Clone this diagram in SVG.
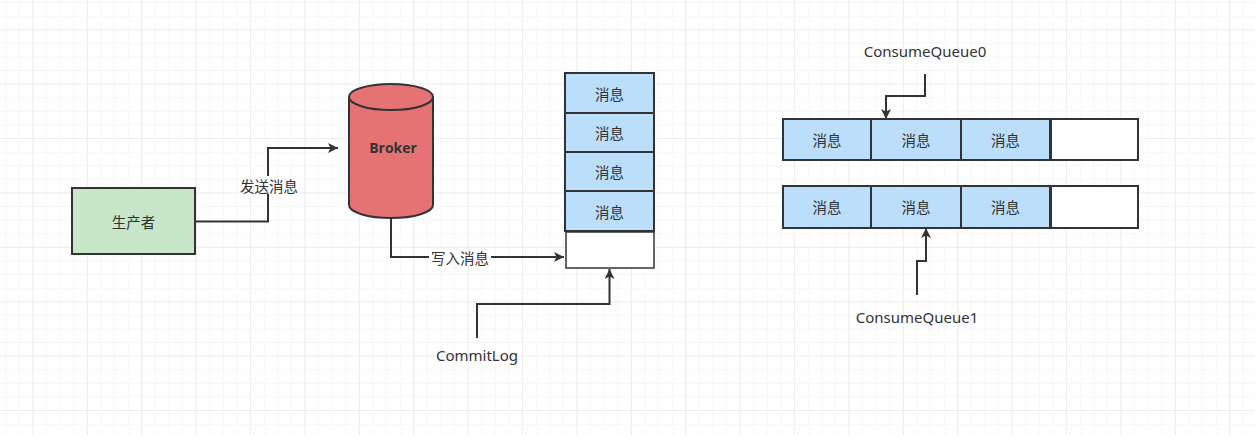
<svg xmlns="http://www.w3.org/2000/svg" width="1255" height="435" viewBox="0 0 1255 435">
  <defs>
    <pattern id="minor" x="5.3" y="2" width="13.6" height="13.6" patternUnits="userSpaceOnUse">
      <path d="M0 0H13.6M0 0V13.6" fill="none" stroke="#f0f0f0" stroke-width="1"/>
    </pattern>
    <pattern id="major" x="32.5" y="29.3" width="54.4" height="54.4" patternUnits="userSpaceOnUse">
      <path d="M0 0H54.4M0 0V54.4" fill="none" stroke="#e4e4e4" stroke-width="1"/>
    </pattern>
    <marker id="arr" viewBox="0 0 10 10" refX="10" refY="5" markerWidth="10" markerHeight="10" markerUnits="userSpaceOnUse" orient="auto">
      <path d="M0 0L10 5L0 10L2.5 5Z" fill="#333"/>
    </marker>
    <style>
      .t{font-family:"Noto Sans CJK SC","Liberation Sans",sans-serif;font-size:14.5px;fill:#333;text-anchor:middle;dominant-baseline:central}
      .e{font-family:"Noto Sans","Liberation Sans","Noto Sans CJK SC",sans-serif;font-size:15px;fill:#333;text-anchor:middle;dominant-baseline:central}
      .msg{fill:#bbdefb;stroke:#333;stroke-width:2}
      .empty{fill:#fff;stroke:#333;stroke-width:1.5}
      .c{fill:none;stroke:#333;stroke-width:2}
    </style>
  </defs>
  <rect width="1255" height="435" fill="#fff"/>
  <rect width="1255" height="435" fill="url(#minor)"/>
  <rect width="1255" height="435" fill="url(#major)"/>

  <g id="producer">
    <rect x="72" y="188" width="123" height="66" fill="#c8e6c9" stroke="#333" stroke-width="2"/>
    <text class="t" x="133.5" y="221">生产者</text>
  </g>

  <g id="broker">
    <path d="M349 97V205A42 13 0 0 0 433 205V97" fill="#e57373" stroke="#333" stroke-width="2"/>
    <ellipse cx="391" cy="97" rx="42" ry="13" fill="#e57373" stroke="#333" stroke-width="2"/>
    <text class="e" x="393" y="147" style="font-weight:bold;font-family:'Open Sans','Liberation Sans',sans-serif;font-size:14px">Broker</text>
  </g>

  <g id="commitlog">
    <rect class="msg" x="565" y="73" width="89" height="40"/>
    <text class="t" x="609.5" y="93">消息</text>
    <rect class="msg" x="565" y="113" width="89" height="39"/>
    <text class="t" x="609.5" y="132.5">消息</text>
    <rect class="msg" x="565" y="152" width="89" height="39"/>
    <text class="t" x="609.5" y="171.5">消息</text>
    <rect class="msg" x="565" y="191" width="89" height="40"/>
    <text class="t" x="609.5" y="211">消息</text>
    <rect class="empty" x="566" y="232" width="88" height="36"/>
  </g>

  <g id="commitlog-label">
    <text class="e" x="477" y="355">CommitLog</text>
  </g>

  <g id="queue0">
    <rect class="msg" x="783" y="119" width="88" height="41"/>
    <text class="t" x="827" y="139.5">消息</text>
    <rect class="msg" x="871" y="119" width="90" height="41"/>
    <text class="t" x="916" y="139.5">消息</text>
    <rect class="msg" x="961" y="119" width="89" height="41"/>
    <text class="t" x="1005.5" y="139.5">消息</text>
    <rect class="msg" x="1051" y="119" width="87" height="41" style="fill:#fff"/>
  </g>

  <g id="queue1">
    <rect class="msg" x="783" y="186" width="88" height="42"/>
    <text class="t" x="827" y="206.5">消息</text>
    <rect class="msg" x="871" y="186" width="90" height="42"/>
    <text class="t" x="916" y="206.5">消息</text>
    <rect class="msg" x="961" y="186" width="89" height="42"/>
    <text class="t" x="1005.5" y="206.5">消息</text>
    <rect class="msg" x="1051" y="186" width="87" height="42" style="fill:#fff"/>
  </g>

  <g id="cq0-label">
    <text class="e" x="925" y="51">ConsumeQueue0</text>
  </g>
  <g id="cq1-label">
    <text class="e" x="917" y="317">ConsumeQueue1</text>
  </g>

  <g id="connectors">
    <path class="c" d="M196 221.5H268V148H338" marker-end="url(#arr)"/>
    <rect x="239" y="176" width="60" height="18" fill="#fff"/>
    <text class="t" x="269" y="185">发送消息</text>

    <path class="c" d="M391 219V257H564" marker-end="url(#arr)"/>
    <rect x="429" y="248" width="62" height="18" fill="#fff"/>
    <text class="t" x="460" y="257">写入消息</text>

    <path class="c" d="M477 338V304H609.5V269" marker-end="url(#arr)"/>

    <path class="c" d="M925 74V96H886V119" marker-end="url(#arr)"/>
    <path class="c" d="M917 295V261H926V228" marker-end="url(#arr)"/>
  </g>
</svg>
